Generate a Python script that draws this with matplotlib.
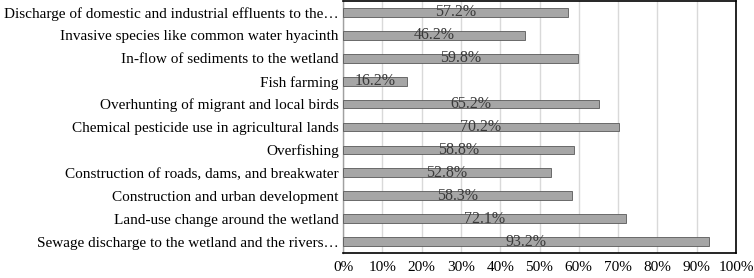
import matplotlib
matplotlib.use("Agg")
import matplotlib.pyplot as plt

categories = [
    "Discharge of domestic and industrial effluents to the\u2026",
    "Invasive species like common water hyacinth",
    "In-flow of sediments to the wetland",
    "Fish farming",
    "Overhunting of migrant and local birds",
    "Chemical pesticide use in agricultural lands",
    "Overfishing",
    "Construction of roads, dams, and breakwater",
    "Construction and urban development",
    "Land-use change around the wetland",
    "Sewage discharge to the wetland and the rivers\u2026",
]
values = [57.2, 46.2, 59.8, 16.2, 65.2, 70.2, 58.8, 52.8, 58.3, 72.1, 93.2]
x_ticks = [0, 10, 20, 30, 40, 50, 60, 70, 80, 90, 100]

plt.rcParams['font.family'] = ['Liberation Serif', 'DejaVu Serif']

fig = plt.figure(figsize=(7.54, 2.78), dpi=100)
ax = fig.add_axes([343/754, 1 - 253/278, (736-343)/754, 252/278])

n = len(categories)
ypos = list(range(n))[::-1]
ax.barh(ypos, values, height=0.38, color='#a6a6a6', edgecolor='#595959', linewidth=0.6, zorder=3)
for y, v in zip(ypos, values):
    ax.text(v / 2, y, f"{v:.1f}%", ha='center', va='center', fontsize=11.5, color='#3a3a3a', zorder=4)

ax.set_xlim(0, 100)
ax.set_ylim(-0.5, n - 0.5)
ax.set_yticks(ypos)
ax.set_yticklabels(categories, fontsize=11.0, color='black')
ax.set_xticks(x_ticks)
ax.set_xticklabels([f"{t}%" for t in x_ticks], fontsize=11.0, color='black')
ax.tick_params(axis='both', length=0)
ax.tick_params(axis='y', pad=3)
ax.tick_params(axis='x', pad=6)
ax.grid(axis='x', color='#d9d9d9', linewidth=1, zorder=0)
for s in ['top', 'right', 'bottom']:
    ax.spines[s].set_color('black')
    ax.spines[s].set_linewidth(1.2)
ax.spines['left'].set_color('#a0a0a0')
ax.spines['left'].set_linewidth(1)

fig.savefig("out.png", dpi=100)
